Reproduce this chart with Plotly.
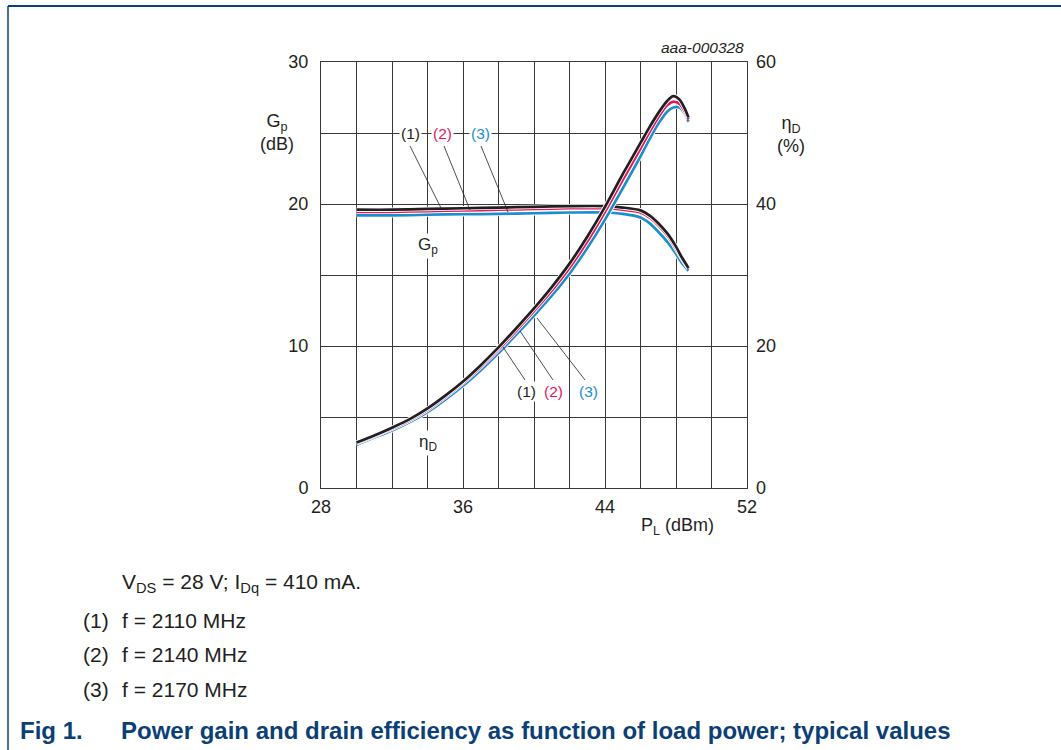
import plotly.graph_objects as go

# ---------------- data ----------------
pl_gain = [30, 32, 34, 36, 38, 40, 42, 44, 45, 46, 46.5, 47, 47.5, 48, 48.3, 48.7]
gp_1 = [19.6, 19.6, 19.65, 19.7, 19.75, 19.8, 19.85, 19.85, 19.75, 19.55, 19.2, 18.65, 17.95, 17.0, 16.3, 15.5]
gp_2 = [19.45, 19.45, 19.5, 19.55, 19.6, 19.65, 19.7, 19.7, 19.6, 19.4, 19.05, 18.5, 17.8, 16.85, 16.2, 15.45]
gp_3 = [19.2, 19.2, 19.25, 19.28, 19.3, 19.35, 19.4, 19.4, 19.3, 19.05, 18.65, 18.05, 17.35, 16.5, 15.9, 15.3]

pl_eff = [30, 31, 32, 33, 34, 35, 36, 37, 38, 39, 40, 41, 42, 43, 44, 45, 46, 46.5, 47, 47.5, 47.85, 48.2, 48.5, 48.7]
eta_1 = [6.4, 7.4, 8.5, 9.7, 11.2, 13.0, 15.0, 17.3, 19.8, 22.5, 25.3, 28.3, 31.6, 35.4, 39.6, 44.2, 48.6, 50.8, 52.8, 54.5, 55.2, 54.7, 53.4, 52.2]
eta_2 = [6.3, 7.3, 8.35, 9.55, 11.0, 12.8, 14.8, 17.05, 19.5, 22.15, 24.9, 27.8, 31.0, 34.7, 38.9, 43.4, 47.8, 50.1, 52.2, 53.9, 54.4, 54.1, 53.0, 51.9]
eta_3 = [6.1, 7.1, 8.1, 9.3, 10.7, 12.45, 14.4, 16.6, 19.0, 21.6, 24.3, 27.1, 30.2, 33.8, 37.8, 42.2, 46.7, 49.1, 51.3, 53.0, 53.6, 53.6, 52.7, 51.6]

series_tags = ["(1)", "(2)", "(3)"]
series_freqs = ["f = 2110 MHz", "f = 2140 MHz", "f = 2170 MHz"]
series_colors = ["#231f20", "#e3185c", "#1b8ed0"]

x_ticks = [28, 36, 44, 52]
y_ticks = [0, 10, 20, 30]
y2_ticks = [0, 20, 40, 60]

# ---------------- layout helpers ----------------
W, H = 1061, 750
L, R, T, B = 321, 747, 62, 488
FONT = "Liberation Sans, Arial, sans-serif"
NAVY = "#0b3f75"
INK = "#231f20"


def px(x):
    return (x - L) / (R - L)


def py(y):
    return (B - y) / (B - T)


fig = go.Figure()

gains = [gp_1, gp_2, gp_3]
effs = [eta_1, eta_2, eta_3]
for i in [2, 1, 0]:
    for xs, ys, ax in [(pl_gain, gains[i], "y"), (pl_eff, effs[i], "y2")]:
        fig.add_trace(go.Scatter(x=xs, y=ys, yaxis=ax, mode="lines",
                                 line=dict(color="white", width=4.4, shape="spline", smoothing=0.8),
                                 hoverinfo="skip", showlegend=False))
        fig.add_trace(go.Scatter(x=xs, y=ys, yaxis=ax, mode="lines",
                                 name=series_tags[i] + " " + series_freqs[i],
                                 line=dict(color=series_colors[i], width=2.7, shape="spline", smoothing=0.8),
                                 showlegend=False))

grid = "#3a3a3a"
fig.update_layout(
    width=W, height=H,
    margin=dict(l=L, r=W - R, t=T, b=H - B),
    paper_bgcolor="white", plot_bgcolor="white",
    font=dict(family=FONT, size=18, color=INK),
    xaxis=dict(range=[28, 52], tickmode="array", tickvals=x_ticks, showgrid=True,
               gridcolor=grid, gridwidth=1, showline=True, linecolor=grid, mirror=True,
               minor=dict(tickmode="linear", tick0=28, dtick=2, showgrid=True, gridcolor=grid, gridwidth=1),
               zeroline=False, ticks="", ticklabelstandoff=2),
    yaxis=dict(range=[0, 30], tickmode="array", tickvals=y_ticks, showgrid=True,
               gridcolor=grid, gridwidth=1, showline=True, linecolor=grid, mirror=True,
               minor=dict(tickmode="linear", tick0=0, dtick=5, showgrid=True, gridcolor=grid, gridwidth=1),
               zeroline=False, ticks="", ticklabelstandoff=8),
    yaxis2=dict(range=[0, 60], tickmode="array", tickvals=y2_ticks, overlaying="y", side="right",
                showgrid=False, zeroline=False, showline=False, ticks="", ticklabelstandoff=8),
)

shapes = []
# frame border of the page
shapes.append(dict(type="line", xref="paper", yref="paper", x0=px(8), x1=px(1061), y0=py(6), y1=py(6),
                   line=dict(color=NAVY, width=2)))
shapes.append(dict(type="line", xref="paper", yref="paper", x0=px(8), x1=px(8), y0=py(6), y1=py(750),
                   line=dict(color=NAVY, width=1.5)))
# leader lines
leaders = [
    ((410, 146), (441, 208)), ((444, 146), (470, 210)), ((481, 146), (508, 212)),
    ((525, 380), (503, 347)), ((553, 380), (520, 331)), ((585, 380), (537, 318)),
]
for (x0, y0), (x1, y1) in leaders:
    shapes.append(dict(type="line", xref="paper", yref="paper", x0=px(x0), y0=py(y0), x1=px(x1), y1=py(y1),
                       line=dict(color=INK, width=0.8)))
fig.update_layout(shapes=shapes)

ann = []


def text(x, y, s, size=18, color=INK, xanchor="center", bg=None, bold=False, italic=False, align="center"):
    d = dict(x=px(x), y=py(y), xref="paper", yref="paper", text=s, showarrow=False,
             xanchor=xanchor, yanchor="middle", align=align,
             font=dict(family=FONT, size=size, color=color,
                       weight="bold" if bold else "normal",
                       style="italic" if italic else "normal"))
    if bg:
        d["bgcolor"] = bg
        d["borderpad"] = 1
    ann.append(d)


# curve labels
for (x, y), i in zip([(410, 133), (442, 133), (480, 133)], range(3)):
    text(x, y, series_tags[i], size=15.5, color=series_colors[i], bg="white")
for (x, y), i in zip([(526, 391), (553, 391), (588, 391)], range(3)):
    text(x, y, series_tags[i], size=15.5, color=series_colors[i], bg="white")
text(428, 246, "G<sub>p</sub>", size=17, bg="white")
text(428, 443, "η<sub>D</sub>", size=17, bg="white")
# axis titles
text(277, 132, "G<sub>p</sub><br>(dB)", size=18)
text(791, 134, "η<sub>D</sub><br>(%)", size=18)
text(677, 526, "P<sub>L</sub> (dBm)", size=18)
text(746, 48, "aaa-000328", size=15.5, xanchor="right", italic=True)
# caption
text(120, 583, "V<sub>DS</sub> = 28 V; I<sub>Dq</sub> = 410 mA.", size=21, xanchor="left")
for i, y in enumerate([620, 654, 689]):
    text(81, y, series_tags[i], size=21, xanchor="left")
    text(120, y, series_freqs[i], size=21, xanchor="left")
text(18, 730, "Fig 1.", size=24, color=NAVY, xanchor="left", bold=True)
text(119, 730, "Power gain and drain efficiency as function of load power; typical values", size=24,
     color=NAVY, xanchor="left", bold=True)
fig.update_layout(annotations=ann)

fig.write_html("out.html", config={"displayModeBar": False},
               post_script="document.body.style.margin='0px';")
